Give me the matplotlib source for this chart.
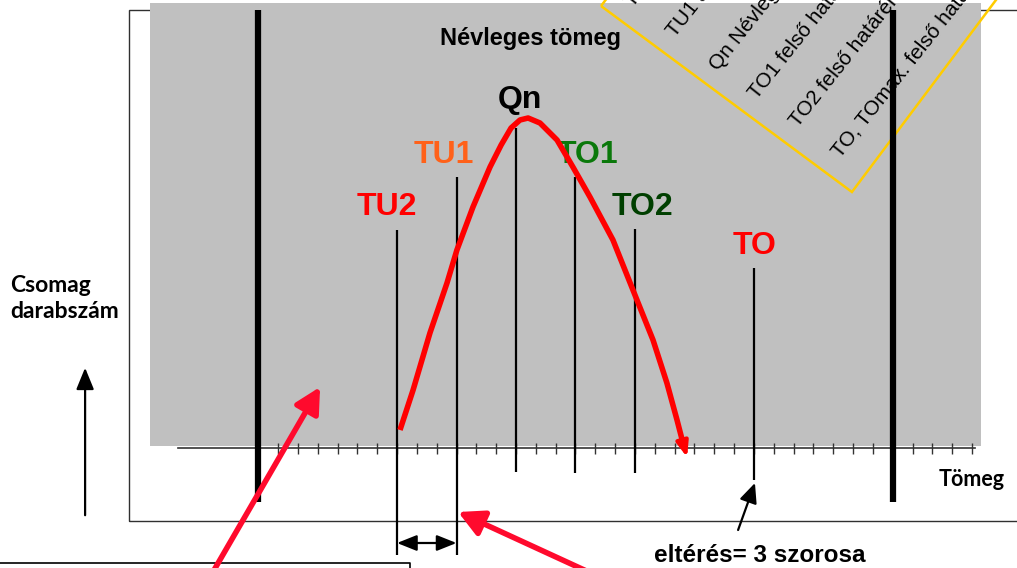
import matplotlib
matplotlib.use('Agg')
import matplotlib.pyplot as plt
import numpy as np
from matplotlib.patches import Rectangle, Polygon

# x: tolerance steps relative to Qn (one tick per step), y: height above the mass axis
limit_names = ['TU2', 'TU1', 'Qn', 'TO1', 'TO2', 'TO']
limit_pos = [-6, -3, 0, 3, 6, 12]
limit_top = [218, 271, 320, 271, 219, 180]
limit_bottom = [-107, -107, -24, -25, -25, -32]
label_colors = ['#FF0000', '#FF6119', '#000000', '#0A780A', '#003F00', '#FF0000']
label_x = [-6.5, -3.66, 0.2, 3.6, 6.37, 12.05]
label_y = [241, 293, 348, 293, 241, 202]

# distribution curve
curve_x = [-5.85, -5.19, -4.34, -3.48, -2.98, -2.17, -1.31, -0.75, -0.25, 0.20, 0.61,
           1.21, 2.07, 2.87, 3.73, 4.89, 6.10, 6.91, 7.61, 8.12, 8.42]
curve_y = [18, 58, 115, 165, 198, 241, 281, 303, 320, 328, 330,
           325, 308, 281, 251, 208, 148, 108, 65, 28, 5]

tick_pos = np.arange(-12, 24)
thick_pos = [-13, 19]

legend_lines = ['TU2 alsó határérték', 'TU1 alsó határérték', 'Qn Névleges tömeg',
                'TO1 felső határérték', 'TO2 felső határérték', 'TO, TOmax. felső határérték']
legend_x = [5.90, 8.02, 10.19, 12.15, 14.22, 16.34]
legend_y = [440, 410, 376, 348, 320, 290]

px = 19.83  # pixels per step
fig = plt.figure(figsize=(10.17, 5.68), dpi=100)
ax = fig.add_axes([0, 0, 1, 1])
ax.set_xlim(-516 / px, 501 / px)
ax.set_ylim(-120, 448)
ax.axis('off')

arial = 'Liberation Sans'
calibri = 'Lato'

# outer frame and grey plot area
ax.add_patch(Rectangle((-19.52, -73), 50, 511, fill=False, ec='#303030', lw=1.0, zorder=0))
ax.add_patch(Rectangle((-18.46, 2), 41.91, 443, fc='#C0C0C0', ec='none', zorder=0.5))

# mass axis with ticks
ax.plot([-17.05, 23.15], [0, 0], color='#333333', lw=1.2, zorder=1)
ax.vlines(tick_pos, -5.5, 5.5, color='#333333', lw=1.0, zorder=1)

# thick boundary lines
ax.vlines(thick_pos, -54, 438, color='black', lw=4.5, zorder=6)

# limit lines and labels
ax.vlines(limit_pos, limit_bottom, limit_top, color='black', lw=1.6, zorder=2)
for name, x, y, c in zip(limit_names, label_x, label_y, label_colors):
    ax.text(x, y, name, color=c, fontsize=23, fontweight='bold', family=arial,
            ha='center', va='center', zorder=3)

# distribution curve
ax.plot(curve_x, curve_y, color='#FF0000', lw=4, solid_capstyle='butt',
        solid_joinstyle='round', zorder=5)
ax.annotate('', xy=(8.67, -12), xytext=(curve_x[-1], curve_y[-1]),
            arrowprops=dict(arrowstyle='-|>,head_length=0.9,head_width=0.35',
                            color='#FF0000', lw=3, mutation_scale=10), zorder=5)

ax.text(0.71, 410, 'Névleges tömeg', fontsize=17, fontweight='bold', family=arial,
        ha='center', va='center', zorder=3)

# rotated legend box
dx, dy = 9.08, 240
A = (4.29, 442)
B = (16.94, 256)
box = Polygon([A, B, (B[0] + dx, B[1] + dy), (A[0] + dx, A[1] + dy)], closed=True,
              fill=False, ec='#FFCC00', lw=1.8, zorder=4)
ax.add_patch(box)
for txt, x, y in zip(legend_lines, legend_x, legend_y):
    ax.text(x, y, txt, rotation=51.5, rotation_mode='anchor', ha='left', va='baseline',
            fontsize=15, family=arial, zorder=4)

# axis captions
ax.text(23.0, -32, 'Tömeg', fontsize=15.5, fontweight='bold', family=calibri,
        ha='center', va='center')
ax.text(-25.52, 163, 'Csomag', fontsize=16.5, fontweight='bold', family=calibri,
        ha='left', va='center')
ax.text(-25.52, 137, 'darabszám', fontsize=16.5, fontweight='bold', family=calibri,
        ha='left', va='center')
ax.annotate('', xy=(-21.73, 83), xytext=(-21.73, -70),
            arrowprops=dict(arrowstyle='-|>,head_length=1.1,head_width=0.45',
                            color='black', lw=1.6, mutation_scale=12))

# spread marker and note
ax.annotate('', xy=(-3, -95), xytext=(-6, -95),
            arrowprops=dict(arrowstyle='<|-|>,head_length=1.0,head_width=0.4',
                            color='black', lw=1.6, mutation_scale=12, shrinkA=0, shrinkB=0))
ax.annotate('', xy=(12.05, -35), xytext=(11.2, -82),
            arrowprops=dict(arrowstyle='-|>,head_length=1.0,head_width=0.45',
                            color='black', lw=1.6, mutation_scale=12, shrinkA=0, shrinkB=0))
ax.text(12.3, -107, 'eltérés= 3 szorosa', fontsize=17.5, fontweight='bold', family=arial,
        ha='center', va='center')

# callout box at bottom left
ax.plot([-27, -5.35, -5.35], [-115, -115, -125], color='black', lw=1.2, zorder=3)

# red pointer arrows
red = '#FF0A2D'
ax.annotate('', xy=(-9.88, 61), xytext=(-15.4, -128),
            arrowprops=dict(arrowstyle='-|>,head_length=0.8,head_width=0.42',
                            color=red, lw=4, mutation_scale=19, shrinkA=0, shrinkB=0),
            zorder=7)
ax.annotate('', xy=(-2.92, -64), xytext=(4.1, -128),
            arrowprops=dict(arrowstyle='-|>,head_length=0.8,head_width=0.42',
                            color=red, lw=4, mutation_scale=19, shrinkA=0, shrinkB=0),
            zorder=7)

fig.savefig('out.png', dpi=100)
